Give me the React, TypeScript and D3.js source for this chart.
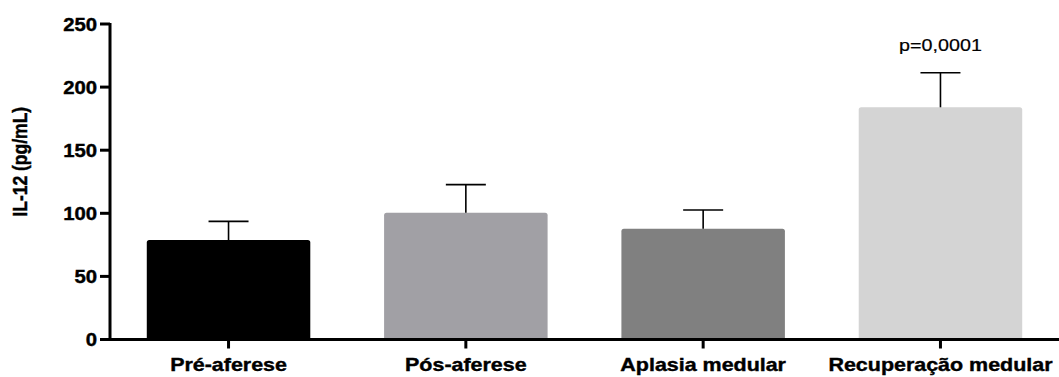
import React from "react";
import * as d3 from "d3";

const categories = ["Pré-aferese", "Pós-aferese", "Aplasia medular", "Recuperação medular"];
const means = [78.8, 100.5, 87.8, 184.0];
const sems = [14.8, 22.2, 14.8, 27.4];
const barColors = ["#000000", "#a1a0a5", "#808080", "#d4d4d4"];
const yTicks = [0, 50, 100, 150, 200, 250];
const annotations = ["", "", "", "p=0,0001"];
const yLabel = "IL-12 (pg/mL)";

const W = 1059;
const H = 377;
const axisX = 110;
const x0 = 110;
const x1 = 1059;
const yBottom = 339.5;
const yTop = 24;
const SX = 1.16;

export default function App() {
  const x = d3.scaleBand<string>().domain(categories).range([x0, x1]).paddingInner(0.311).paddingOuter(0.155);
  const y = d3.scaleLinear().domain([0, 250]).range([yBottom, yTop]);
  const bw = x.bandwidth();
  const r = 2.5;
  const font = "Arial, 'Liberation Sans', Helvetica, sans-serif";

  return (
    <svg width={W} height={H} style={{ position: "absolute", left: 0, top: 0, background: "#fff" }}>
      {categories.map((c, i) => {
        const bx = x(c)!;
        const by = y(means[i]);
        const path = `M${bx},${yBottom} L${bx},${by + r} Q${bx},${by} ${bx + r},${by} L${bx + bw - r},${by} Q${bx + bw},${by} ${bx + bw},${by + r} L${bx + bw},${yBottom} Z`;
        const cx = bx + bw / 2;
        const ey = y(means[i] + sems[i]);
        return (
          <g key={c}>
            <path d={path} fill={barColors[i]} />
            <line x1={cx} x2={cx} y1={by} y2={ey} stroke="#000" strokeWidth={1.6} />
            <line x1={cx - 20} x2={cx + 20} y1={ey} y2={ey} stroke="#000" strokeWidth={1.6} />
            {annotations[i] && (
              <text
                transform={`translate(${cx},${ey - 22}) scale(${SX},1)`}
                textAnchor="middle"
                fontFamily={font}
                fontSize={17}
                fill="#000"
                stroke="#000"
                strokeWidth={0.2}
              >
                {annotations[i]}
              </text>
            )}
            <line x1={cx} x2={cx} y1={yBottom} y2={yBottom + 9} stroke="#000" strokeWidth={3} />
            <text
              transform={`translate(${cx},${370.5}) scale(${SX},1)`}
              textAnchor="middle"
              fontFamily={font}
              fontWeight="bold"
              fontSize={18.5}
              fill="#000"
              stroke="#000"
              strokeWidth={0.4}
            >
              {c}
            </text>
          </g>
        );
      })}
      {/* axes */}
      <line x1={axisX} x2={axisX} y1={yTop - 1} y2={yBottom + 1.5} stroke="#000" strokeWidth={3} />
      <line x1={axisX - 1.5} x2={x1} y1={yBottom} y2={yBottom} stroke="#000" strokeWidth={3} />
      {yTicks.map((t) => (
        <g key={t}>
          <line x1={axisX - 10} x2={axisX} y1={y(t)} y2={y(t)} stroke="#000" strokeWidth={3} />
          <text
            transform={`translate(${97},${y(t) + 6.5}) scale(${SX},1)`}
            textAnchor="end"
            fontFamily={font}
            fontWeight="bold"
            fontSize={17.5}
            fill="#000"
            stroke="#000"
            strokeWidth={0.4}
          >
            {t}
          </text>
        </g>
      ))}
      <text
        transform={`translate(${26.5},${(yTop + yBottom) / 2 - 20}) scale(${SX},1) rotate(-90)`}
        textAnchor="middle"
        fontFamily={font}
        fontWeight="bold"
        fontSize={17.5}
        fill="#000"
        stroke="#000"
        strokeWidth={0.4}
      >
        {yLabel}
      </text>
    </svg>
  );
}
